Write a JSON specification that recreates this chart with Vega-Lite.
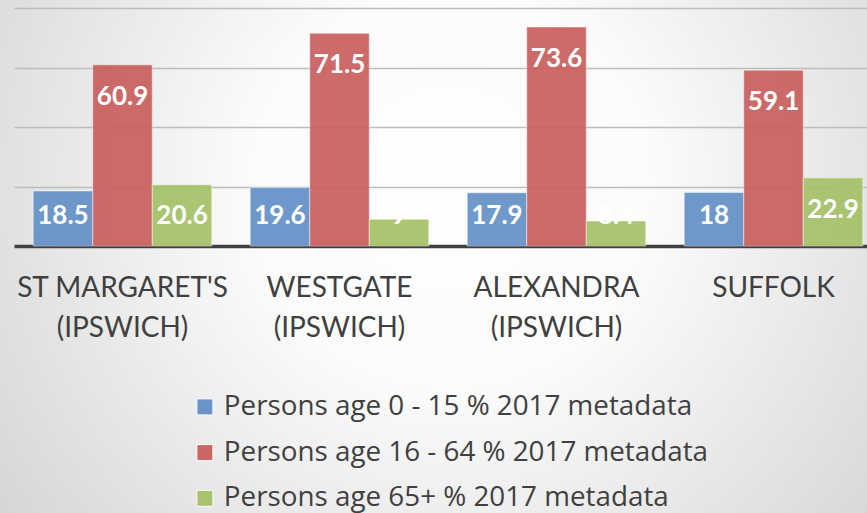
{
  "$schema": "https://vega.github.io/schema/vega-lite/v6.json",
  "width": 867,
  "height": 513,
  "autosize": {"type": "none"},
  "padding": 0,
  "background": "#e6e6e6",
  "view": {
    "stroke": null,
    "fill": {"gradient": "radial", "x1": 0.52, "y1": 0.42, "r1": 0, "x2": 0.52, "y2": 0.42, "r2": 0.78,
      "stops": [{"offset": 0, "color": "#ffffff"}, {"offset": 0.3, "color": "#fbfbfb"}, {"offset": 1, "color": "#c9c9c9"}]}
  },
  "data": {
    "values": [
      {"area": "ST MARGARET'S (IPSWICH)", "series": "Persons age 0 - 15 % 2017 metadata", "value": 18.5},
      {"area": "ST MARGARET'S (IPSWICH)", "series": "Persons age 16 - 64 % 2017 metadata", "value": 60.9},
      {"area": "ST MARGARET'S (IPSWICH)", "series": "Persons age 65+ % 2017 metadata", "value": 20.6},
      {"area": "WESTGATE (IPSWICH)", "series": "Persons age 0 - 15 % 2017 metadata", "value": 19.6},
      {"area": "WESTGATE (IPSWICH)", "series": "Persons age 16 - 64 % 2017 metadata", "value": 71.5},
      {"area": "WESTGATE (IPSWICH)", "series": "Persons age 65+ % 2017 metadata", "value": 9},
      {"area": "ALEXANDRA (IPSWICH)", "series": "Persons age 0 - 15 % 2017 metadata", "value": 17.9},
      {"area": "ALEXANDRA (IPSWICH)", "series": "Persons age 16 - 64 % 2017 metadata", "value": 73.6},
      {"area": "ALEXANDRA (IPSWICH)", "series": "Persons age 65+ % 2017 metadata", "value": 8.4},
      {"area": "SUFFOLK", "series": "Persons age 0 - 15 % 2017 metadata", "value": 18},
      {"area": "SUFFOLK", "series": "Persons age 16 - 64 % 2017 metadata", "value": 59.1},
      {"area": "SUFFOLK", "series": "Persons age 65+ % 2017 metadata", "value": 22.9}
    ]
  },
  "encoding": {
    "x": {
      "field": "area", "type": "nominal",
      "sort": ["ST MARGARET'S (IPSWICH)", "WESTGATE (IPSWICH)", "ALEXANDRA (IPSWICH)", "SUFFOLK"],
      "scale": {"range": [14, 882], "paddingInner": 0.177, "paddingOuter": 0.0885},
      "axis": {
        "orient": "bottom", "offset": -267, "title": null, "ticks": false,
        "domainColor": "#404040", "domainWidth": 3.5,
        "labelFont": "Lato", "labelFontSize": 28, "labelColor": "#404040",
        "labelPadding": 28, "labelLineHeight": 40, "labelLimit": 400, "labelAngle": 0,
        "labelBaseline": "top",
        "labelExpr": "indexof(datum.label, ' (') > 0 ? [slice(datum.label, 0, indexof(datum.label, ' (')), slice(datum.label, indexof(datum.label, ' (') + 1)] : datum.label"
      }
    },
    "xOffset": {
      "field": "series", "type": "nominal",
      "sort": ["Persons age 0 - 15 % 2017 metadata", "Persons age 16 - 64 % 2017 metadata", "Persons age 65+ % 2017 metadata"],
      "scale": {"paddingInner": 0, "paddingOuter": 0}
    }
  },
  "layer": [
    {
      "mark": {"type": "bar", "opacity": 0.92, "stroke": "#ffffff", "strokeOpacity": 0.5, "strokeWidth": 1},
      "encoding": {
        "y": {
          "field": "value", "type": "quantitative",
          "scale": {"domain": [0, 80], "range": [246, 8], "nice": false, "zero": true},
          "axis": {"title": null, "labels": false, "ticks": false, "domain": false, "grid": true,
            "values": [20, 40, 60, 80], "gridColor": "#bdbdbd", "gridWidth": 1.5}
        },
        "color": {
          "field": "series", "type": "nominal",
          "sort": ["Persons age 0 - 15 % 2017 metadata", "Persons age 16 - 64 % 2017 metadata", "Persons age 65+ % 2017 metadata"],
          "scale": {"range": ["#6390c7", "#c95f5d", "#a4c268"]},
          "legend": {
            "title": null, "orient": "none", "legendX": 191, "legendY": 393,
            "symbolType": "square", "symbolSize": 256, "symbolStrokeColor": "#ffffff", "symbolStrokeWidth": 1,
            "symbolOpacity": 0.95,
            "labelFont": "Open Sans", "labelFontSize": 27.8, "labelColor": "#404040",
            "rowPadding": 16.7, "labelOffset": 5, "padding": 0, "labelLimit": 700
          }
        }
      }
    },
    {
      "transform": [{"calculate": "max(datum.value - 10.8, 10.2)", "as": "labelPos"}],
      "mark": {"type": "text", "color": "#ffffff", "font": "Lato", "fontWeight": "bold", "fontSize": 26, "baseline": "middle", "align": "center"},
      "encoding": {
        "y": {"field": "labelPos", "type": "quantitative"},
        "text": {"field": "value", "type": "quantitative"}
      }
    }
  ]
}
